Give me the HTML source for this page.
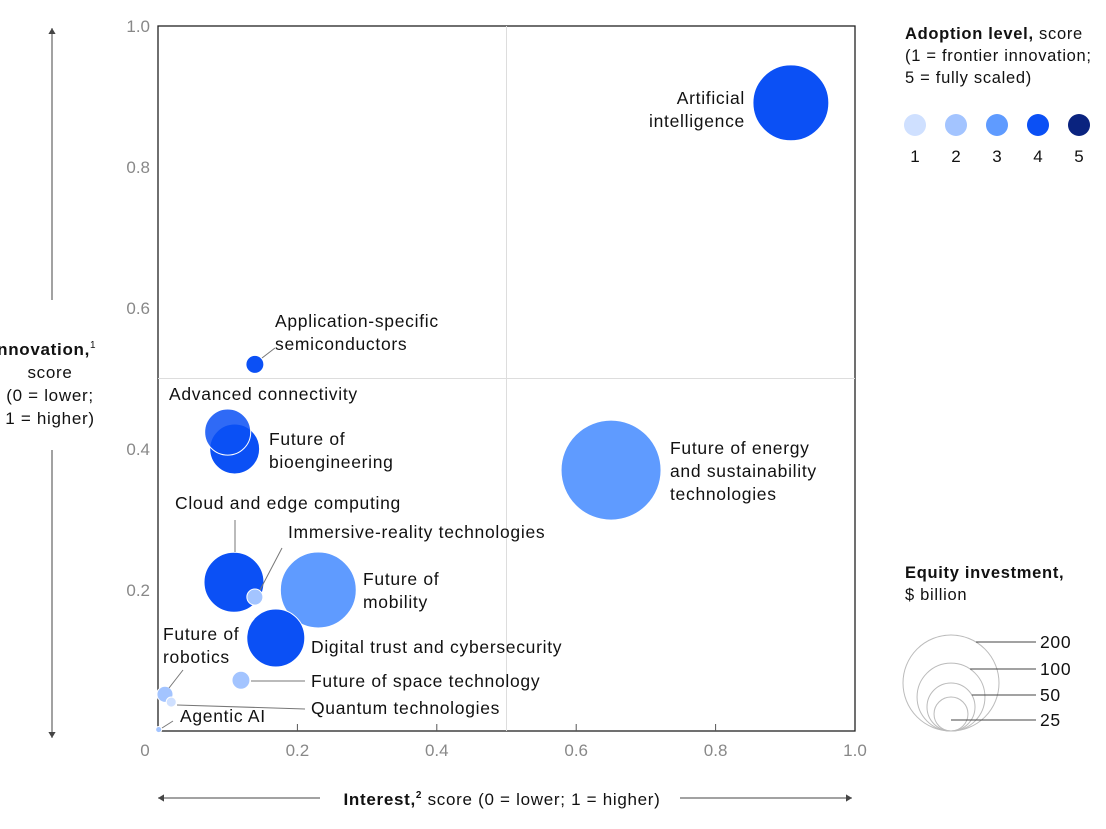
<!DOCTYPE html>
<html><head><meta charset="utf-8"><style>
body{margin:0;background:#fff;width:1106px;height:824px;overflow:hidden;font-family:"Liberation Sans",sans-serif}
svg text{font-family:"Liberation Sans",sans-serif}
.lbl{letter-spacing:0.7px}
</style></head><body>
<svg id="chart" width="1106" height="824" xmlns="http://www.w3.org/2000/svg">
<g id="axes"></g><g id="bubbles"></g><g id="legend"></g>
</svg>
<script>
const names=["Artificial intelligence","Application-specific semiconductors","Advanced connectivity","Future of bioengineering","Future of energy and sustainability technologies","Cloud and edge computing","Immersive-reality technologies","Future of mobility","Digital trust and cybersecurity","Future of space technology","Future of robotics","Quantum technologies","Agentic AI"];
const interest=[0.908,0.139,0.10,0.11,0.65,0.109,0.139,0.23,0.169,0.119,0.01,0.019,0.001];
const innovation=[0.891,0.52,0.424,0.40,0.37,0.211,0.19,0.20,0.132,0.072,0.052,0.041,0.002];
const investment=[125,7,46,54,217,78,5.6,125,73,7,5.6,2.2,0.8];
const adoption=[4,4,4,4,3,4,2,3,4,2,2,1,2];
const xTicks=[0,0.2,0.4,0.6,0.8,1.0];
const yTicks=[0.2,0.4,0.6,0.8,1.0];
const legendSizes=[200,100,50,25];
const levels=[1,2,3,4,5];

const NS="http://www.w3.org/2000/svg";
const X0=158,X1=855,Y0=731,Y1=26;
const xs=v=>X0+v*(X1-X0), ys=v=>Y0-v*(Y0-Y1);
const rs=v=>48*Math.sqrt(v/200);
const colors={1:"#cfe0ff",2:"#a3c4ff",3:"#5f9bff",4:"#0b50f5",5:"#0a237f"};
function mk(tag,attrs,parent,text){const e=document.createElementNS(NS,tag);for(const k in attrs)e.setAttribute(k,attrs[k]);if(text!==undefined)e.textContent=text;parent.appendChild(e);return e;}
const axes=document.getElementById('axes'),bub=document.getElementById('bubbles'),leg=document.getElementById('legend');

let e=mk('rect',{x:X0,y:Y1,width:X1-X0,height:Y0-Y1,fill:'none',stroke:'#222','stroke-width':1.3},axes);


e=mk('line',{x1:xs(0.5),x2:xs(0.5),y1:Y1,y2:Y0,stroke:'#ddd'},axes);


e=mk('line',{x1:X0,x2:X1,y1:ys(0.5),y2:ys(0.5),stroke:'#ddd'},axes);


xTicks.forEach(t=>{
 if(t>0&&t<1){e=mk('line',{x1:xs(t),x2:xs(t),y1:Y0,y2:Y0-7,stroke:'#555'},axes);
 
 }
 e=mk('text',{x:t===0?145:xs(t),y:756,'text-anchor':'middle','font-size':17,fill:'#888'},axes,t===0?'0':t.toFixed(1));
 
 
});
yTicks.forEach(t=>{
 e=mk('text',{x:150,y:ys(t)+6,'text-anchor':'end','font-size':17,fill:'#888'},axes,t.toFixed(1));
 
 
});
function arrow(x1,y1,x2,y2,name){const g=mk('g',{},axes);
 mk('line',{x1,y1,x2,y2,stroke:'#444','stroke-width':1},g);
 const a=Math.atan2(y2-y1,x2-x1),s=6;
 mk('path',{d:`M${x2},${y2} L${x2-s*Math.cos(a)+s*0.6*Math.sin(a)},${y2-s*Math.sin(a)-s*0.6*Math.cos(a)} L${x2-s*Math.cos(a)-s*0.6*Math.sin(a)},${y2-s*Math.sin(a)+s*0.6*Math.cos(a)}Z`,fill:'#444'},g);}
arrow(52,300,52,28,'y-arrow-up');arrow(52,450,52,738,'y-arrow-down');
arrow(320,798,158,798,'x-arrow-left');arrow(680,798,852,798,'x-arrow-right');
e=mk('text',{x:502,y:805,'text-anchor':'middle','font-size':17,fill:'#111','class':'lbl'},axes);

e.innerHTML='<tspan font-weight="bold">Interest,</tspan><tspan font-size="10" dy="-7" font-weight="bold">2</tspan><tspan dy="7"> score (0 = lower; 1 = higher)</tspan>';
e=mk('text',{x:48,'text-anchor':'middle','font-size':17,fill:'#111','class':'lbl'},axes);

e.innerHTML='<tspan x="44" y="355" font-weight="bold">Innovation,</tspan><tspan font-size="10" dy="-7">1</tspan><tspan x="50" y="378">score</tspan><tspan x="50" y="401">(0 = lower;</tspan><tspan x="50" y="424">1 = higher)</tspan>';

const order=names.map((n,i)=>i).sort((a,b)=>investment[b]-investment[a]);
order.forEach(i=>{
 const c=mk('circle',{cx:xs(interest[i]),cy:ys(innovation[i]),r:Math.max(rs(investment[i]),3),fill:colors[adoption[i]],stroke:'#fff','stroke-width':1,'fill-opacity':i===2?0.85:1},bub);
 
 
});
const labels=[
 [0,["Artificial","intelligence"],745,104,'end',null],
 [1,["Application-specific","semiconductors"],275,327,'start',[262,358,275,348]],
 [2,["Advanced connectivity"],169,400,'start',null],
 [3,["Future of","bioengineering"],269,445,'start',null],
 [4,["Future of energy","and sustainability","technologies"],670,454,'start',null],
 [5,["Cloud and edge computing"],175,509,'start',[235,520,235,552]],
 [6,["Immersive-reality technologies"],288,538,'start',[260,590,282,548]],
 [7,["Future of","mobility"],363,585,'start',null],
 [8,["Digital trust and cybersecurity"],311,653,'start',null],
 [9,["Future of space technology"],311,687,'start',[251,681,305,681]],
 [10,["Future of","robotics"],163,640,'start',[169,688,183,670]],
 [11,["Quantum technologies"],311,714,'start',[177,705,305,709]],
 [12,["Agentic AI"],180,722,'start',[162,728,173,721]]
];
labels.forEach(([i,lines,x,y,anc,ld])=>{
 const g=mk('g',{},bub);
 
 
 if(ld)mk('line',{x1:ld[0],y1:ld[1],x2:ld[2],y2:ld[3],stroke:'#777','stroke-width':1},g);
 lines.forEach((l,k)=>mk('text',{x,y:y+k*23,'text-anchor':anc,'font-size':17.5,fill:'#111','class':'lbl'},g,l));
});

e=mk('text',{x:905,'font-size':16.5,fill:'#111','class':'lbl'},leg);

e.innerHTML='<tspan x="905" y="39" font-weight="bold">Adoption level,</tspan><tspan> score</tspan><tspan x="905" y="61">(1 = frontier innovation;</tspan><tspan x="905" y="83">5 = fully scaled)</tspan>';
levels.forEach((l,k)=>{
 const g=mk('g',{},leg);
 
 
 const cx=915+k*41;
 mk('circle',{cx,cy:125,r:11,fill:colors[l]},g);
 mk('text',{x:cx,y:162,'text-anchor':'middle','font-size':17,fill:'#111'},g,String(l));
});
e=mk('text',{x:905,'font-size':16.5,fill:'#111','class':'lbl'},leg);

e.innerHTML='<tspan x="905" y="578" font-weight="bold">Equity investment,</tspan><tspan x="905" y="600">$ billion</tspan>';
const lb=[642,669,695,720];
legendSizes.forEach((v,k)=>{
 const g=mk('g',{},leg);
 
 
 const r=rs(v),cy=731-r,cx=951;
 mk('circle',{cx,cy,r,fill:'none',stroke:'#bbb','stroke-width':1},g);
 const dy=lb[k]-cy;
 const sx=Math.abs(dy)<r*0.5?cx:cx+Math.sqrt(Math.max(r*r-dy*dy,0));
 mk('line',{x1:sx,y1:lb[k],x2:1036,y2:lb[k],stroke:'#444','stroke-width':1},g);
 mk('text',{x:1040,y:lb[k]+6,'font-size':17.5,fill:'#111','class':'lbl'},g,String(v));
});
</script>
</body></html>
